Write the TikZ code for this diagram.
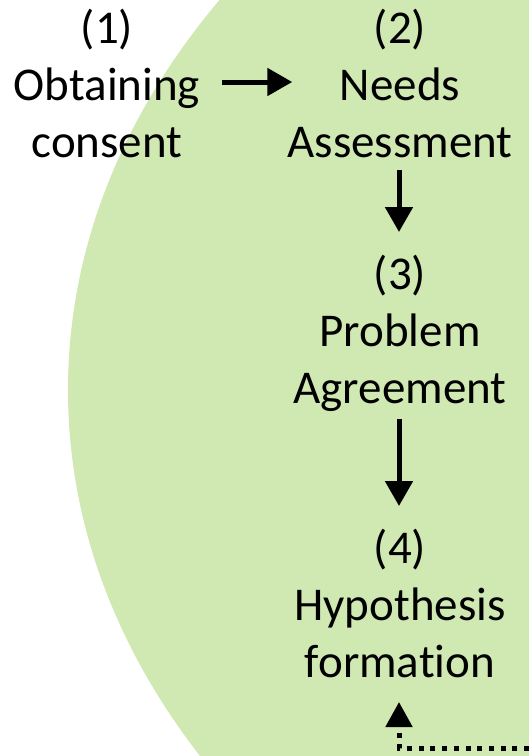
\documentclass[tikz,border=0pt]{standalone}
\usepackage{fontspec}
\setmainfont{Carlito}[Ligatures=NoCommon]
\usetikzlibrary{arrows.meta}
\definecolor{bgreen}{RGB}{208,232,177}
\tikzset{
  steptext/.style={align=center, inner sep=0pt, anchor=base, text=black,
    font=\fontsize{47}{57}\selectfont},
  arr/.style={line width=5pt, -{Triangle[length=25pt,width=27pt]}},
  dotarr/.style={line width=5pt, dash pattern=on 5pt off 6.7pt,
    -{Triangle[length=25pt,width=26pt]}}
}
\begin{document}
\begin{tikzpicture}[x=1pt,y=-1pt]
\useasboundingbox (0,0) rectangle (529,756);
\begin{scope}
  \clip (0,0) rectangle (529,756);
  \fill[bgreen] (1108,390) ellipse [x radius=1040, y radius=750];
\end{scope}
\node[steptext] (n1) at (107,157) {(1)\\Obtaining\\consent};
\node[steptext] (n2) at (400,157) {(2)\\Needs\\Assessment};
\node[steptext] (n3) at (400,403) {(3)\\Problem\\Agreement};
\node[steptext] (n4) at (400,677) {(4)\\Hypothesis\\formation};
\coordinate (h) at (0,82);
\coordinate (v1s) at (0,170);
\coordinate (v1e) at (0,232);
\coordinate (v2s) at (0,419);
\coordinate (v2e) at (0,506);
\coordinate (dtip) at (0,702);
\coordinate (d0) at (529,748);
\draw[arr] ([xshift=22pt]n1.east |- h) -- ([xshift=5pt]n2.west |- h);
\draw[arr] ([xshift=-1pt]n2.south |- v1s) -- ([xshift=-1pt]n3.north |- v1e);
\draw[arr] ([xshift=-1pt]n3.south |- v2s) -- ([xshift=-1pt]n4.north |- v2e);
\draw[dotarr] (d0) -| ([xshift=-1pt]n4.south |- dtip);
\end{tikzpicture}
\end{document}
